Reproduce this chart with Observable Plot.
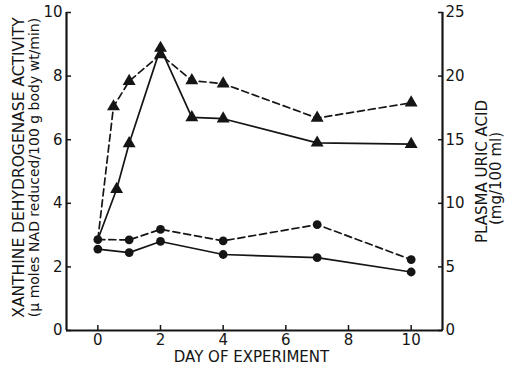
<!DOCTYPE html>
<html>
<head>
<meta charset="utf-8">
<script src="https://cdn.jsdelivr.net/npm/d3@7"></script>
<script src="https://cdn.jsdelivr.net/npm/@observablehq/plot@0.6"></script>
<style>
  html, body { margin: 0; padding: 0; background: #fff; }
  #chart svg { display: block; }
</style>
</head>
<body>
<div id="chart"></div>
<script>
// Day of experiment
const xdhDays = [0, 1, 2, 4, 7, 10];
// Xanthine dehydrogenase activity (µmoles NAD reduced / 100 g body wt / min)
const xdhSolid = [2.56, 2.45, 2.80, 2.39, 2.29, 1.84];
const xdhDashed = [2.86, 2.85, 3.18, 2.82, 3.33, 2.23];

// Plasma uric acid (mg / 100 ml)
const uricSolidDays = [0, 0.6, 1, 2, 3, 4, 7, 10];
const uricSolid = [7.15, 11.1, 14.7, 22.2, 16.75, 16.65, 14.75, 14.65];
const uricDashedDays = [0, 0.5, 1, 2, 3, 4, 7, 10];
const uricDashed = [7.15, 17.6, 19.6, 21.7, 19.65, 19.4, 16.7, 17.9];

// Tick values
const xTicks = [0, 2, 4, 6, 8, 10];
const leftTicks = [0, 2, 4, 6, 8, 10];
const rightTicks = [0, 5, 10, 15, 20, 25];

// The right axis shares the left scale: 10 activity units = 25 mg/100 ml
const uricPerUnit = 2.5;

const ink = "#151515";
const font = "DejaVu Sans";

const xdh = (days, vals) => days.map((d, i) => ({day: d, v: vals[i]}));
const uric = (days, vals) => days.map((d, i) => ({day: d, v: vals[i] / uricPerUnit}));

const sXdh = xdh(xdhDays, xdhSolid);
const dXdh = xdh(xdhDays, xdhDashed);
const sUric = uric(uricSolidDays, uricSolid);
const dUric = uric(uricDashedDays, uricDashed);

const lineOpts = {x: "day", y: "v", stroke: ink, strokeWidth: 1.7};
const dashOpts = {...lineOpts, strokeDasharray: "7,4"};

const title = {rotate: -90, textAnchor: "middle", fill: ink};

const chart = Plot.plot({
  width: 516,
  height: 371,
  marginLeft: 66,
  marginRight: 74,
  marginTop: 12,
  marginBottom: 41,
  x: {domain: [-1, 11]},
  y: {domain: [0, 10]},
  style: {fontFamily: font, fontSize: "15px", color: ink, background: "#fff"},
  marks: [
    Plot.axisX({ticks: xTicks, tickSize: -5, tickPadding: 9, label: null, strokeWidth: 1.5}),
    Plot.axisY({ticks: leftTicks, tickSize: -5, tickPadding: 9, label: null, strokeWidth: 1.5}),
    Plot.axisY({anchor: "right", ticks: rightTicks.map(t => t / uricPerUnit),
      tickFormat: d => Math.round(d * uricPerUnit), tickSize: -5, tickPadding: 8, label: null, strokeWidth: 1.5}),
    Plot.ruleY([0], {stroke: ink, strokeWidth: 2.2}),
    Plot.ruleX([-1, 11], {stroke: ink, strokeWidth: 2.2}),

    Plot.line(sUric, lineOpts),
    Plot.line(dUric, dashOpts),
    Plot.line(sXdh, lineOpts),
    Plot.line(dXdh, dashOpts),

    Plot.dot(sUric.slice(1), {x: "day", y: "v", symbol: "triangle", r: 4.8, fill: ink}),
    Plot.dot(dUric.slice(1), {x: "day", y: "v", symbol: "triangle", r: 4.8, fill: ink}),
    Plot.dot(sXdh, {x: "day", y: "v", r: 4.4, fill: ink}),
    Plot.dot(dXdh, {x: "day", y: "v", r: 4.4, fill: ink}),

    // Axis titles
    Plot.text(["XANTHINE DEHYDROGENASE ACTIVITY"], {...title, frameAnchor: "left", dx: -47, dy: -4, fontSize: 15.5, letterSpacing: 0.3}),
    Plot.text(["(µ moles NAD reduced/100 g body wt/min)"], {...title, frameAnchor: "left", dx: -32, dy: -4, fontSize: 14}),
    Plot.text(["PLASMA URIC ACID"], {...title, frameAnchor: "right", dx: 40, fontSize: 15, letterSpacing: 0.3}),
    Plot.text(["(mg/100 ml)"], {...title, frameAnchor: "right", dx: 54, dy: 7, fontSize: 15}),
    Plot.text(["DAY OF EXPERIMENT"], {frameAnchor: "bottom", dy: 31, dx: -3, fontSize: 15, fill: ink, letterSpacing: 1.6})
  ]
});

document.getElementById("chart").appendChild(chart);
</script>
</body>
</html>
